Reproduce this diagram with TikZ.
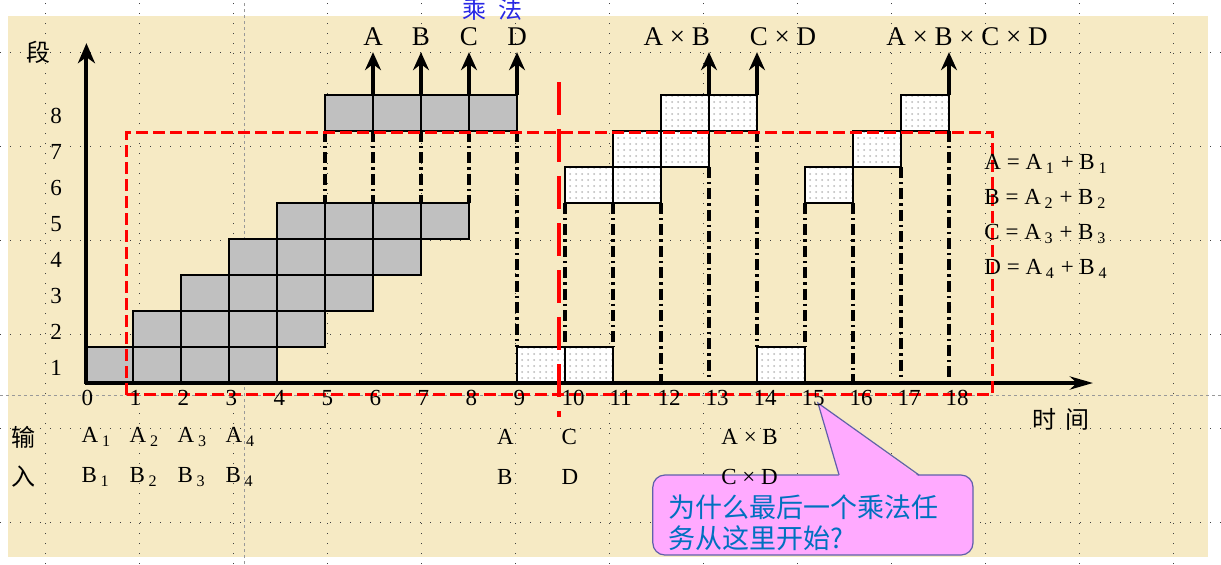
\documentclass[tikz,border=0pt]{standalone}
\usepackage{fontspec}
\setmainfont{Liberation Serif}
\newfontfamily\cjk{Noto Sans CJK SC}
\usetikzlibrary{patterns}
\usetikzlibrary{arrows.meta}

\definecolor{slidebg}{RGB}{246,234,196}
\definecolor{cellgray}{RGB}{192,192,192}
\definecolor{calloutpink}{RGB}{255,170,255}
\definecolor{calloutline}{RGB}{96,96,170}
\definecolor{calloutblue}{RGB}{0,112,192}
\definecolor{titleblue}{RGB}{40,40,230}

\newcommand{\lowsub}[1]{\,\textsubscript{#1}}

\begin{document}
\begin{tikzpicture}[x=24pt,y=18pt,
    addcell/.style={fill=cellgray,draw=black,line width=0.9pt},
    mulcell/.style={preaction={fill=white},pattern=dots,pattern color=gray!55,draw=black,line width=0.9pt},
    dashdot/.style={line width=1.8pt,dash pattern=on 5.5pt off 2pt on 1.2pt off 2pt},
    outarrow/.style={line width=1.8pt,-{Stealth[length=9pt,width=8pt,inset=3pt]}},
    griddots/.style={black!75,line width=0.5pt,dash pattern=on 0.5pt off 4.5pt},
    guide/.style={gray!80,line width=0.4pt,dash pattern=on 1.5pt off 1.5pt},
    lbl/.style={font=\fontsize{13.5}{15}\selectfont,inner sep=0pt},
    tick/.style={font=\fontsize{11.5}{13}\selectfont,inner sep=0pt},
    inp/.style={font=\fontsize{11.5}{13}\selectfont,inner sep=0pt,anchor=west},
    hz/.style={font=\cjk\fontsize{12}{14}\selectfont,inner sep=0pt}]

        \useasboundingbox (-1.7708,-5.0278) rectangle (23.6667,10.6389);
        \fill[white] (-1.7708,-5.0278) rectangle (23.6667,10.6389);
        \fill[slidebg] (-1.604,-4.833) rectangle (23.396,10.194);

        % slide grid and guides
        \foreach \gx in {0,...,12}
            \draw[griddots] ({-0.8125+1.9583*\gx},-5.0278) -- ({-0.8125+1.9583*\gx},10.6389);
        \foreach \gy in {0,...,5}
            \draw[griddots] (-1.7708,{9.194-2.6111*\gy}) -- (23.6667,{9.194-2.6111*\gy});
        \draw[guide] (3.3125,-5.0278) -- (3.3125,10.6389);
        \draw[guide] (-1.7708,-0.333) -- (23.6667,-0.333);

        % addition tasks
        \foreach \row/\start in {1/0,2/1,3/2,4/3,5/4,8/5}
            \foreach \col in {0,...,3}
                \draw[addcell] ({\start+\col},{\row-1}) rectangle ++(1,1);
        % multiplication tasks
        \foreach \start in {9,10,14}
            \foreach \row/\off in {1/0,6/1,7/2,8/3}
                \draw[mulcell] ({\start+\off},{\row-1}) rectangle ++(1,1);

        \foreach \xx/\ytop/\ybot in {5/7/5,6/7/5,7/7/5,8/7/5,9/7/1,10/5/1,11/5/1,12/5/0,13/6/0,14/7/1,15/5/1,16/5/0,17/6/0,18/7/0}
            \draw[dashdot] (\xx,\ytop) -- (\xx,\ybot);

        \foreach \xx in {6,7,8,9,13,14,18}
            \draw[outarrow] (\xx,8) -- (\xx,9.19);

        % axes
        \draw[line width=2pt,-{Stealth[length=10pt,width=8.5pt,inset=3pt]}] (0.03,0) -- (0.03,9.44);
        \draw[line width=2pt,-{Stealth[length=11.5pt,width=6.5pt,inset=3.5pt]}] (0,0) -- (21.0,0);

        \draw[red,line width=1.5pt,dash pattern=on 6pt off 2.5pt] (0.875,-0.333) rectangle (18.9,6.97);
        \draw[red,line width=2pt,dash pattern=on 16.5pt off 7pt] (9.875,8.36) -- (9.875,-0.944);

        % callout
        \draw[fill=calloutpink,draw=calloutline,line width=0.6pt,rounded corners=6pt] (11.83,-4.778) rectangle (18.5,-2.556);
        \fill[calloutpink] (15.71,-2.6) -- (15.27,-0.556) -- (17.375,-2.6) -- cycle;
        \draw[calloutline,line width=0.6pt] (15.71,-2.556) -- (15.27,-0.556) -- (17.375,-2.556);
        \node[font=\cjk\fontsize{13.5}{15.5}\selectfont,text=calloutblue,align=left,anchor=west,inner sep=0pt] (whyNote) at (12.15,-3.875) {为什么最后一个乘法任\\务从这里开始?};

        % labels
        \node[hz,text=titleblue] (mulTitle) at (8.48,10.39) {乘\hspace{0.5em}法};
        \foreach \xx/\sym in {6/A,7/B,8/C,9/D}
            \node[lbl] (out\sym) at (\xx,9.61) {\sym};
        \node[lbl] (outAB) at (12.33,9.61) {A × B};
        \node[lbl] (outCD) at (14.54,9.61) {C × D};
        \node[lbl] (outABCD) at (18.375,9.61) {A × B × C × D};

        \node[hz] (axisStage) at (-0.97,9.19) {段};
        \foreach \row in {1,...,8}
            \node[tick] (stage\row) at (-0.6,{\row-0.58}) {\row};
        \foreach \col in {0,...,18}
            \node[tick,anchor=west] (time\col) at ({\col-0.08},-0.42) {\col};
        \node[hz] (axisTime) at (20.33,-1.0) {时\hspace{0.4em}间};

        \node[hz] (inTop) at (-1.29,-1.5) {输};
        \node[hz] (inBot) at (-1.29,-2.61) {入};
        \foreach \k in {1,...,4} {
            \node[inp] (inA\k) at ({\k-1.08},-1.5) {A\lowsub{\k}};
            \node[inp] (inB\k) at ({\k-1.08},-2.61) {B\lowsub{\k}};
        }
        \node[inp] (inA) at (8.58,-1.5) {A};
        \node[inp] (inB) at (8.58,-2.61) {B};
        \node[inp] (inC) at (9.92,-1.5) {C};
        \node[inp] (inD) at (9.92,-2.61) {D};
        \node[inp] (inAB) at (13.25,-1.5) {A × B};
        \node[inp] (inCD) at (13.25,-2.61) {C × D};

        \foreach \k/\sym/\yy in {1/A/6.08,2/B/5.11,3/C/4.14,4/D/3.17}
            \node[inp] (sum\sym) at (18.73,\yy) {\sym\ =\ A\lowsub{\k}\ +\ B\lowsub{\k}};

\end{tikzpicture}
\end{document}
